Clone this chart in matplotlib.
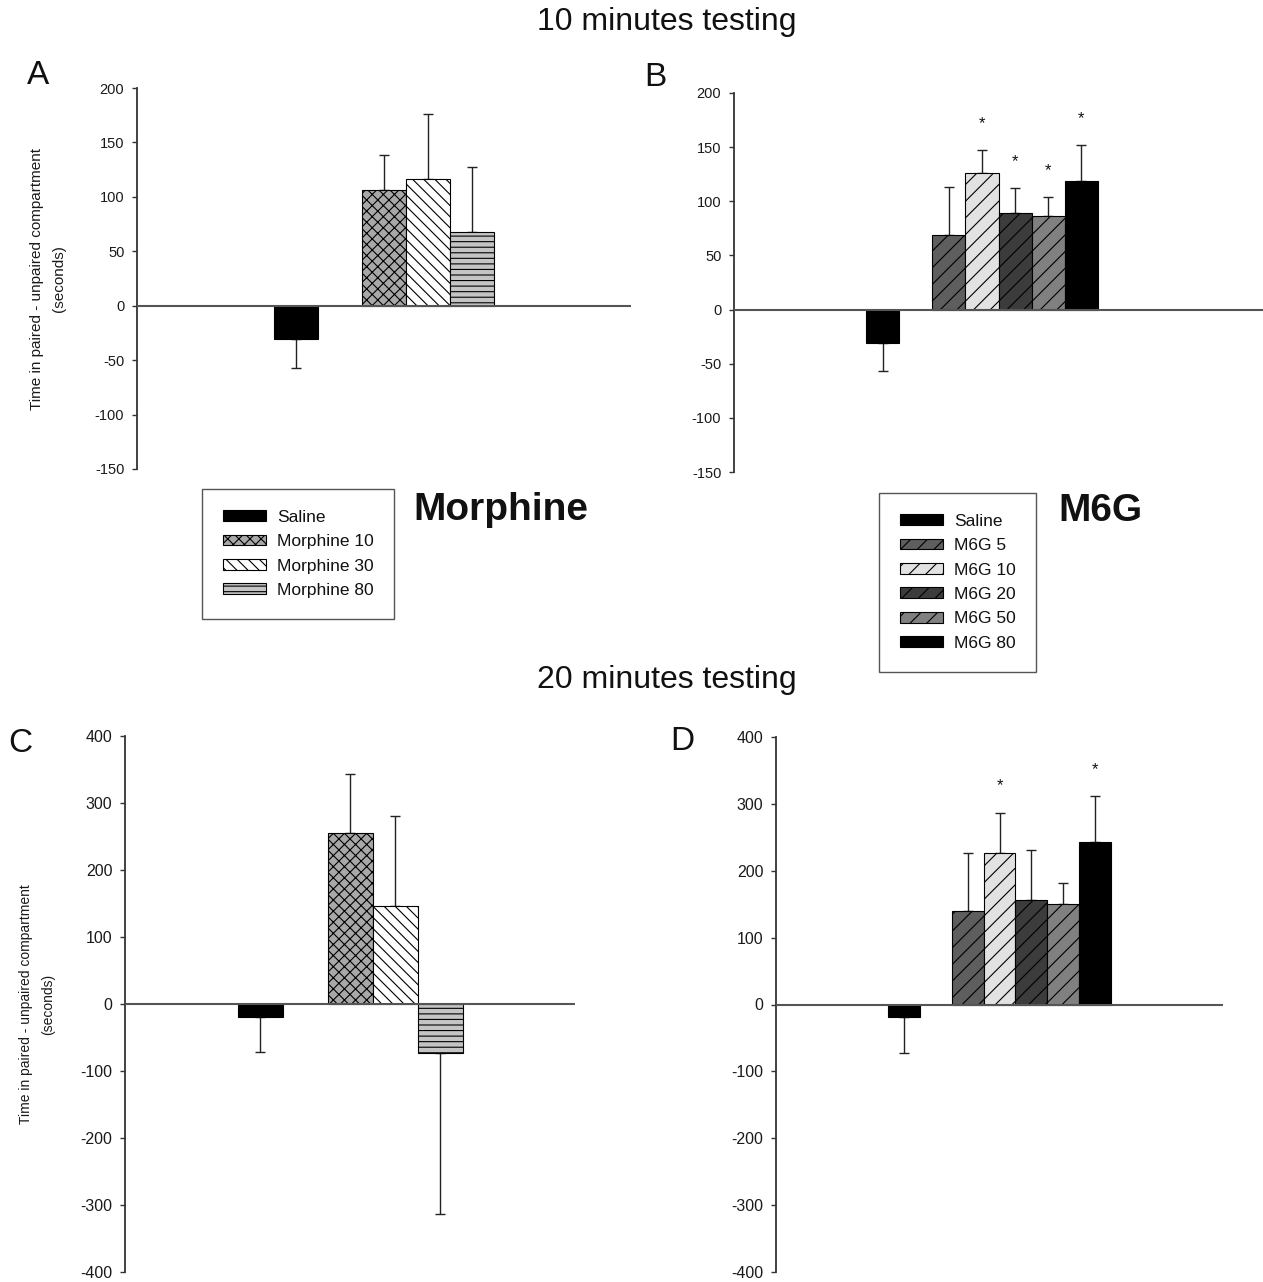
import numpy as np
import matplotlib
matplotlib.use('Agg')
import matplotlib.pyplot as plt
from matplotlib.patches import Patch

plt.rcParams['font.family'] = ['Liberation Sans', 'DejaVu Sans']
plt.rcParams['hatch.linewidth'] = 0.8

W, H, DPI = 1263, 1282, 100

# ---------------- data ----------------
morph_labels = ['Saline', 'Morphine 10', 'Morphine 30', 'Morphine 80']
m6g_labels = ['Saline', 'M6G 5', 'M6G 10', 'M6G 20', 'M6G 50', 'M6G 80']

# 10 minutes testing
morph10_mean = [-31, 106, 116, 68]
morph10_err = [26, 32, 60, 59]
m6g10_mean = [-31, 69, 126, 89, 86, 119]
m6g10_err = [26, 44, 21, 23, 18, 33]
m6g10_sig = [False, False, True, True, True, True]

# 20 minutes testing
morph20_mean = [-19, 255, 146, -73]
morph20_err = [52, 89, 134, 240]
m6g20_mean = [-19, 140, 227, 157, 151, 243]
m6g20_err = [53, 86, 60, 74, 30, 69]
m6g20_sig = [False, False, True, False, False, True]

ticks_10 = [-150, -100, -50, 0, 50, 100, 150, 200]
ticks_20 = [-400, -300, -200, -100, 0, 100, 200, 300, 400]

# ---------------- styles ----------------
morph_styles = [
    dict(facecolor='black', hatch=None),
    dict(facecolor='#a8a8a8', hatch='xxx'),
    dict(facecolor='white', hatch='\\\\\\'),
    dict(facecolor='#c4c4c4', hatch='---'),
]
m6g_styles = [
    dict(facecolor='black', hatch=None),
    dict(facecolor='#5e5e5e', hatch='//'),
    dict(facecolor='#e2e2e2', hatch='//'),
    dict(facecolor='#3c3c3c', hatch='//'),
    dict(facecolor='#808080', hatch='//'),
    dict(facecolor='black', hatch=None),
]

fig = plt.figure(figsize=(W / DPI, H / DPI), dpi=DPI)


def make_axes(l, r, t, b):
    return fig.add_axes([l / W, 1 - b / H, (r - l) / W, (b - t) / H])


def draw_panel(ax, means, errs, styles, offset, xmax, ylim, ticks,
               tick_fs, sig=None, ylabel=None, ylabel_fs=10, ylabel_x=-0.18):
    n = len(means)
    idx = np.arange(n)
    x = offset + idx + (idx > 0).astype(float)
    for xi, m, e, st in zip(x, means, errs, styles):
        ax.bar(xi, m, width=1.0, color=st['facecolor'], edgecolor='black',
               linewidth=0.8, hatch=st['hatch'], zorder=2)
        if m >= 0:
            yerr = [[0], [e]]
        else:
            yerr = [[e], [0]]
        ax.errorbar([xi], [m], yerr=yerr, fmt='none', ecolor='#222222',
                    elinewidth=1.0, capsize=3.6, capthick=1.0, zorder=1.5)
    if sig is not None:
        for xi, m, e, s in zip(x, means, errs, sig):
            if s:
                ax.annotate('*', xy=(xi, m + e), xytext=(0, 16),
                            textcoords='offset points', ha='center',
                            va='baseline', fontsize=12, color='#111111')
    ax.axhline(0, color='#555555', lw=1.5, zorder=3)
    ax.set_xlim(0, xmax)
    ax.set_ylim(*ylim)
    ax.set_yticks(ticks)
    ax.set_yticklabels([str(t) for t in ticks])
    ax.set_xticks([])
    for s in ['top', 'right', 'bottom']:
        ax.spines[s].set_visible(False)
    ax.spines['left'].set_color('#333333')
    ax.spines['left'].set_linewidth(1.3)
    ax.tick_params(axis='y', direction='out', length=3.6, width=1.0,
                   color='#333333', labelsize=tick_fs, pad=5.5,
                   labelcolor='#1a1a1a')
    ax.patch.set_alpha(0)
    if ylabel:
        ax.set_ylabel(ylabel, fontsize=ylabel_fs, linespacing=1.7,
                      va='center', color='#1a1a1a')
        ax.yaxis.set_label_coords(ylabel_x, 0.5)


ylab = 'Time in paired - unpaired compartment\n(seconds)'

axA = make_axes(137, 631, 88, 469)
draw_panel(axA, morph10_mean, morph10_err, morph_styles, 3.6, 11.2,
           (-150, 200), ticks_10, 10.5, ylabel=ylab, ylabel_fs=11,
           ylabel_x=(48 - 137) / 494)

axB = make_axes(734, 1263, 93, 472)
draw_panel(axB, m6g10_mean, m6g10_err, m6g_styles, 4.5, 16.0,
           (-150, 200), ticks_10, 10.5, sig=m6g10_sig)

axC = make_axes(125, 575, 736, 1272)
draw_panel(axC, morph20_mean, morph20_err, morph_styles, 3.0, 10.0,
           (-400, 400), ticks_20, 11.5, ylabel=ylab, ylabel_fs=10,
           ylabel_x=(37 - 125) / 450)

axD = make_axes(776, 1223, 737, 1272)
draw_panel(axD, m6g20_mean, m6g20_err, m6g_styles, 4.0, 14.0,
           (-400, 400), ticks_20, 11.5, sig=m6g20_sig)

# ---------------- titles & labels ----------------
fig.text(667 / W, 1 - 22 / H, '10 minutes testing', ha='center', va='center',
         fontsize=23, color='#111111')
fig.text(667 / W, 1 - 680 / H, '20 minutes testing', ha='center', va='center',
         fontsize=23, color='#111111')
for lab, (px, py) in zip(['A', 'B', 'C', 'D'],
                         [(38, 75), (655, 77), (20, 744), (682, 742)]):
    fig.text(px / W, 1 - py / H, lab, ha='center', va='center', fontsize=24,
             color='#111111')

fig.text(501 / W, 1 - 510 / H, 'Morphine', ha='center', va='center',
         fontsize=28, fontweight='bold', color='#111111')
fig.text(1100 / W, 1 - 511 / H, 'M6G', ha='center', va='center',
         fontsize=28, fontweight='bold', color='#111111')

# ---------------- legends ----------------
def make_legend(labels, styles, x0, y0):
    handles = [Patch(facecolor=st['facecolor'], edgecolor='black',
                     hatch=st['hatch'], linewidth=0.8) for st in styles]
    leg = fig.legend(handles, labels, loc='upper left',
                     bbox_to_anchor=(x0 / W, 1 - y0 / H), borderaxespad=0,
                     frameon=True, fancybox=False, edgecolor='#555555',
                     framealpha=1, fontsize=12.5, handlelength=2.48,
                     handleheight=0.58, handletextpad=0.63, borderpad=1.2,
                     labelspacing=0.54)
    leg.get_frame().set_linewidth(1.0)
    for t in leg.get_texts():
        t.set_color('#111111')
    return leg


make_legend(morph_labels, morph_styles, 202, 489)
make_legend(m6g_labels, m6g_styles, 879, 493)

fig.savefig('out.png', dpi=DPI)
